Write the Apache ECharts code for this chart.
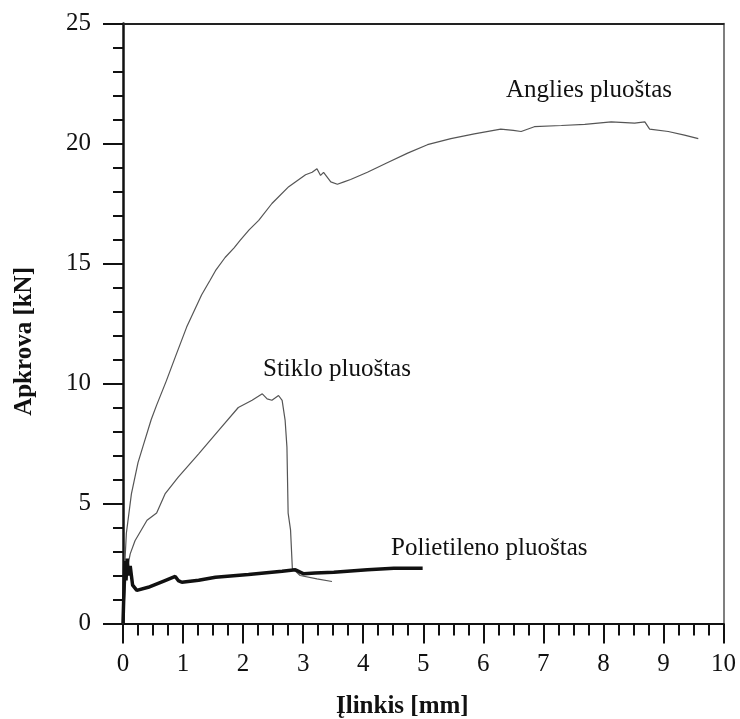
<!DOCTYPE html>
<html>
<head>
<meta charset="utf-8">
<script src="https://cdn.jsdelivr.net/npm/echarts@6/dist/echarts.min.js"></script>
<style>html,body{margin:0;padding:0;background:#fff;}#c{width:740px;height:719px;}</style>
</head>
<body>
<div id="c"></div>
<script>
// Anglies pluoštas (carbon fibre)
const carbonX = [0, 0.02, 0.056, 0.14, 0.25, 0.33, 0.47, 0.56, 0.72, 0.87, 1.06, 1.31, 1.45, 1.54, 1.7, 1.85, 1.95, 2.1, 2.26, 2.48, 2.76, 3.04, 3.15, 3.23, 3.29, 3.34, 3.46, 3.57, 3.68, 3.79, 4.07, 4.4, 4.74, 5.07, 5.46, 5.85, 6.29, 6.5, 6.63, 6.85, 7.3, 7.69, 8.13, 8.52, 8.69, 8.77, 9.08, 9.35, 9.58];
const carbonY = [0, 2.0, 3.76, 5.4, 6.7, 7.36, 8.5, 9.1, 10.1, 11.1, 12.35, 13.7, 14.3, 14.7, 15.25, 15.65, 15.96, 16.4, 16.8, 17.5, 18.2, 18.7, 18.8, 18.95, 18.67, 18.8, 18.4, 18.3, 18.4, 18.5, 18.8, 19.2, 19.6, 19.95, 20.2, 20.4, 20.6, 20.55, 20.5, 20.7, 20.75, 20.8, 20.9, 20.85, 20.9, 20.6, 20.5, 20.35, 20.2];
// Stiklo pluoštas (glass fibre)
const glassX = [0, 0.05, 0.12, 0.2, 0.4, 0.56, 0.7, 0.92, 1.26, 1.59, 1.92, 2.15, 2.32, 2.4, 2.48, 2.59, 2.65, 2.7, 2.73, 2.75, 2.79, 2.82, 2.95, 3.23, 3.48];
const glassY = [0, 2.0, 2.9, 3.45, 4.3, 4.6, 5.4, 6.1, 7.07, 8.04, 9.0, 9.3, 9.57, 9.36, 9.3, 9.5, 9.3, 8.46, 7.35, 4.6, 3.9, 2.3, 2.0, 1.86, 1.75];
// Polietileno pluoštas (polyethylene fibre)
const polyX = [0, 0.03, 0.05, 0.07, 0.09, 0.12, 0.16, 0.23, 0.42, 0.7, 0.87, 0.92, 0.98, 1.26, 1.54, 2.09, 2.65, 2.87, 2.95, 3.01, 3.2, 3.51, 4.07, 4.51, 4.99];
const polyY = [0, 2.6, 1.8, 2.7, 2.0, 2.4, 1.6, 1.38, 1.51, 1.79, 1.96, 1.79, 1.72, 1.8, 1.93, 2.04, 2.18, 2.24, 2.14, 2.07, 2.1, 2.14, 2.24, 2.3, 2.3];

const xTicks = [0, 1, 2, 3, 4, 5, 6, 7, 8, 9, 10];
const yTicks = [0, 5, 10, 15, 20, 25];
const xTitle = 'Įlinkis [mm]';
const yTitle = 'Apkrova [kN]';
const labelCarbon = 'Anglies pluoštas';
const labelGlass = 'Stiklo pluoštas';
const labelPoly = 'Polietileno pluoštas';

const zip = (xs, ys) => xs.map((x, i) => [x, ys[i]]);
const FONT = "'Liberation Serif', 'DejaVu Serif', serif";

const chart = echarts.init(document.getElementById('c'), null, {renderer: 'canvas'});
chart.setOption({
  animation: false,
  backgroundColor: '#fff',
  grid: {left: 123, right: 16.5, top: 23.5, bottom: 95.5, containLabel: false},
  xAxis: [{
    type: 'value', min: xTicks[0], max: xTicks[xTicks.length - 1], interval: 1,
    axisLine: {onZero: false, lineStyle: {color: '#111', width: 2}},
    axisTick: {show: true, inside: false, length: 20, lineStyle: {color: '#111', width: 2}},
    minorTick: {show: true, splitNumber: 4, length: 12, lineStyle: {color: '#111', width: 2}},
    splitLine: {show: false},
    axisLabel: {margin: 28, fontSize: 25, fontFamily: FONT, color: '#111'}
  }, {
    type: 'value', position: 'top', min: 0, max: 10,
    axisLine: {show: true, onZero: false, lineStyle: {color: '#222', width: 2}},
    axisTick: {show: false}, axisLabel: {show: false}, splitLine: {show: false}
  }],
  yAxis: [{
    type: 'value', min: yTicks[0], max: yTicks[yTicks.length - 1], interval: 5,
    axisLine: {show: true, onZero: false, lineStyle: {color: '#111', width: 2.5}},
    axisTick: {show: true, inside: false, length: 20, lineStyle: {color: '#111', width: 2}},
    minorTick: {show: true, splitNumber: 5, length: 10, lineStyle: {color: '#111', width: 2}},
    splitLine: {show: false},
    axisLabel: {margin: 32, fontSize: 25, fontFamily: FONT, color: '#111'}
  }, {
    type: 'value', position: 'right', min: 0, max: 25,
    axisLine: {show: true, onZero: false, lineStyle: {color: '#555', width: 1.5}},
    axisTick: {show: false}, axisLabel: {show: false}, splitLine: {show: false}
  }],
  series: [{
    name: labelCarbon, type: 'line', data: zip(carbonX, carbonY), showSymbol: false,
    lineStyle: {color: '#555', width: 1.2}, z: 3
  }, {
    name: labelGlass, type: 'line', data: zip(glassX, glassY), showSymbol: false,
    lineStyle: {color: '#555', width: 1.2}, z: 3
  }, {
    name: labelPoly, type: 'line', data: zip(polyX, polyY), showSymbol: false,
    lineStyle: {color: '#111', width: 3.5}, z: 4
  }],
  graphic: [
    {type: 'text', left: 506, top: 78, style: {text: labelCarbon, fontSize: 25, fontFamily: FONT, fill: '#111'}},
    {type: 'text', left: 263, top: 357, style: {text: labelGlass, fontSize: 25, fontFamily: FONT, fill: '#111'}},
    {type: 'text', left: 391, top: 536, style: {text: labelPoly, fontSize: 25, fontFamily: FONT, fill: '#111'}},
    {type: 'text', left: 336, top: 694, style: {text: xTitle, fontSize: 25, fontWeight: 'bold', fontFamily: FONT, fill: '#111'}},
    {type: 'text', left: 12, top: 267, rotation: Math.PI / 2, style: {text: yTitle, fontSize: 25, fontWeight: 'bold', fontFamily: FONT, fill: '#111'}}
  ]
});
</script>
</body>
</html>
